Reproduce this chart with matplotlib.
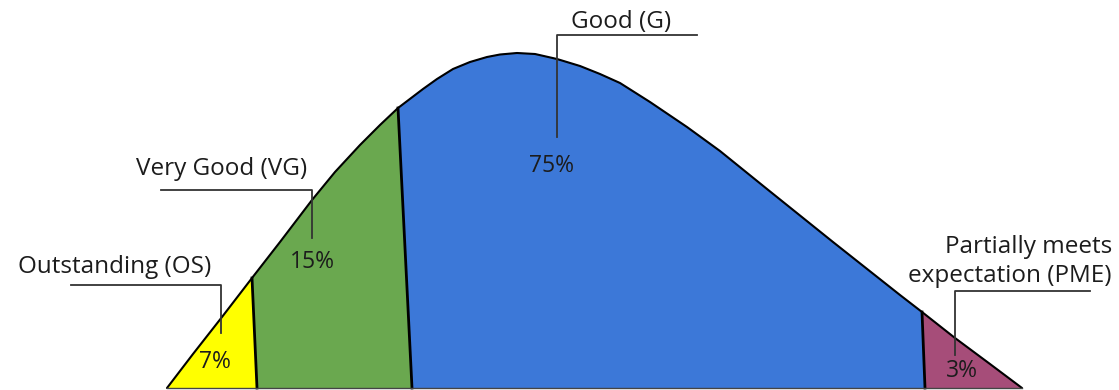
import matplotlib.pyplot as plt
from matplotlib.patches import Polygon

plt.rcParams['font.family'] = ['Open Sans', 'DejaVu Sans']

# outline of the curve: x and height above the baseline
curve_x = [167, 193, 222, 252, 280, 312, 335, 360, 380, 398, 423, 437, 453, 470,
           487, 500, 517, 535, 557, 580, 600, 620, 650, 687, 720, 767, 833, 900,
           922, 955, 990, 1022]
curve_y = [388, 354, 317, 278, 242, 200, 172, 145, 125, 108, 89, 79, 69, 62,
           57, 54.5, 53, 54, 59, 66, 74, 83, 102, 127, 151, 189, 242, 295,
           312, 338, 364, 388]
curve_h = [388 - y for y in curve_y]

# slanted dividers between the grades: x at the curve and x at the baseline
div_top = [167, 252, 398, 922, 1022]
div_bot = [167, 257, 412, 925, 1022]

grades = [['Outstanding (OS)'], ['Very Good (VG)'], ['Good (G)'],
          ['Partially meets', 'expectation (PME)']]
shares = ['7%', '15%', '75%', '3%']
colors = ['#ffff00', '#6aa84f', '#3c78d8', '#a64d79']

label_pos = [(115, 115, 'center'), (222, 213, 'center'), (621, 360, 'center'),
             (1112, 135, 'right')]
leader = [[(71, 103), (221, 103), (221, 55)],
          [(161, 198), (312, 198), (312, 150)],
          [(697, 353), (557, 353), (557, 251)],
          [(1090, 97), (955, 97), (955, 33)]]
share_pos = [(215, 20), (312, 120), (552, 216), (962, 11)]

fig = plt.figure(figsize=(11.19, 3.90), dpi=100)
ax = fig.add_axes([0, 0, 1, 1])
ax.set_xlim(0, 1119)
ax.set_ylim(-2, 388)
ax.axis('off')


def curve_h_at(x):
    for i in range(len(curve_x) - 1):
        if curve_x[i] <= x <= curve_x[i + 1]:
            t = (x - curve_x[i]) / (curve_x[i + 1] - curve_x[i])
            return curve_h[i] + t * (curve_h[i + 1] - curve_h[i])
    return 0


for i in range(4):
    x0, x1 = div_top[i], div_top[i + 1]
    pts = [(div_bot[i], 0), (x0, curve_h_at(x0))]
    pts += [(x, h) for x, h in zip(curve_x, curve_h) if x0 < x < x1]
    pts += [(x1, curve_h_at(x1)), (div_bot[i + 1], 0)]
    ax.add_patch(Polygon(pts, closed=True, facecolor=colors[i],
                         edgecolor=colors[i], lw=0.5))

ax.plot(curve_x, curve_h, color='black', lw=1.5, solid_joinstyle='round',
        solid_capstyle='round')
for t, b in zip(div_top[1:-1], div_bot[1:-1]):
    ax.plot([t, b], [curve_h_at(t), 0], color='black', lw=2)
ax.plot([div_bot[0], div_bot[-1]], [0, 0], color='#444444', lw=1)

for i in range(4):
    lx, ly, ha = label_pos[i]
    for j, line in enumerate(grades[i]):
        ax.text(lx, ly - j * 29, line, ha=ha, va='baseline', fontsize=17.5,
                color='#1c1c1c')
    xs = [p[0] for p in leader[i]]
    ys = [p[1] for p in leader[i]]
    ax.plot(xs, ys, color='#333333', lw=1.3)
    sx, sy = share_pos[i]
    ax.text(sx, sy, shares[i], ha='center', va='baseline', fontsize=16.5,
            color='#1c1c1c')

fig.savefig('out.png', dpi=100)
